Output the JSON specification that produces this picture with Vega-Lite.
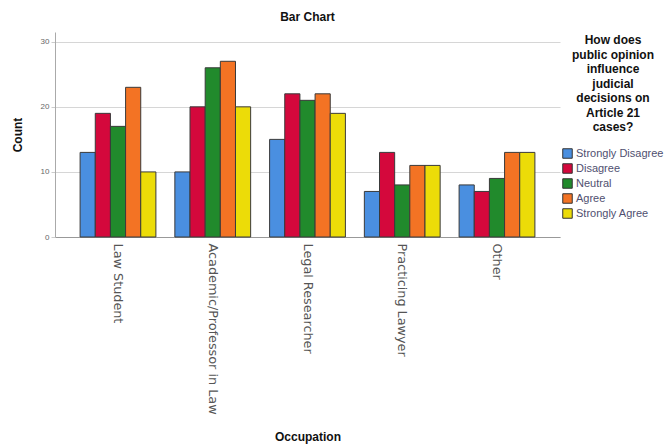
{
  "$schema": "https://vega.github.io/schema/vega-lite/v6.json",
  "width": 505,
  "height": 205,
  "autosize": {"type": "none"},
  "padding": {"left": 55, "top": 32, "right": 109, "bottom": 207},
  "background": "white",
  "title": {"text": "Bar Chart", "fontSize": 12, "font": "Liberation Sans", "fontWeight": "bold", "color": "#111", "anchor": "middle", "offset": 8},
  "config": {
    "view": {"stroke": null},
    "font": "Liberation Sans"
  },
  "data": {
    "values": [
      {"occupation": "Law Student", "opinion": "Strongly Disagree", "count": 13},
      {"occupation": "Law Student", "opinion": "Disagree", "count": 19},
      {"occupation": "Law Student", "opinion": "Neutral", "count": 17},
      {"occupation": "Law Student", "opinion": "Agree", "count": 23},
      {"occupation": "Law Student", "opinion": "Strongly Agree", "count": 10},
      {"occupation": "Academic/Professor in Law", "opinion": "Strongly Disagree", "count": 10},
      {"occupation": "Academic/Professor in Law", "opinion": "Disagree", "count": 20},
      {"occupation": "Academic/Professor in Law", "opinion": "Neutral", "count": 26},
      {"occupation": "Academic/Professor in Law", "opinion": "Agree", "count": 27},
      {"occupation": "Academic/Professor in Law", "opinion": "Strongly Agree", "count": 20},
      {"occupation": "Legal Researcher", "opinion": "Strongly Disagree", "count": 15},
      {"occupation": "Legal Researcher", "opinion": "Disagree", "count": 22},
      {"occupation": "Legal Researcher", "opinion": "Neutral", "count": 21},
      {"occupation": "Legal Researcher", "opinion": "Agree", "count": 22},
      {"occupation": "Legal Researcher", "opinion": "Strongly Agree", "count": 19},
      {"occupation": "Practicing Lawyer", "opinion": "Strongly Disagree", "count": 7},
      {"occupation": "Practicing Lawyer", "opinion": "Disagree", "count": 13},
      {"occupation": "Practicing Lawyer", "opinion": "Neutral", "count": 8},
      {"occupation": "Practicing Lawyer", "opinion": "Agree", "count": 11},
      {"occupation": "Practicing Lawyer", "opinion": "Strongly Agree", "count": 11},
      {"occupation": "Other", "opinion": "Strongly Disagree", "count": 8},
      {"occupation": "Other", "opinion": "Disagree", "count": 7},
      {"occupation": "Other", "opinion": "Neutral", "count": 9},
      {"occupation": "Other", "opinion": "Agree", "count": 13},
      {"occupation": "Other", "opinion": "Strongly Agree", "count": 13}
    ]
  },
  "mark": {"type": "bar", "stroke": "#3a3a3a", "strokeWidth": 1},
  "encoding": {
    "x": {
      "field": "occupation",
      "type": "nominal",
      "sort": ["Law Student", "Academic/Professor in Law", "Legal Researcher", "Practicing Lawyer", "Other"],
      "scale": {"paddingInner": 0.2, "paddingOuter": 0.265},
      "axis": {
        "title": "Occupation",
        "titleFontSize": 12,
        "titleFontWeight": "bold",
        "titleColor": "#111",
        "titleY": 199,
        "titleBaseline": "middle",
        "labelAngle": 90,
        "labelAlign": "left",
        "labelBaseline": "middle",
        "labelFont": "DejaVu Sans",
        "labelFontSize": 12.8,
        "labelColor": "#555",
        "labelPadding": 6,
        "ticks": false,
        "domainColor": "#999",
        "labelLimit": 300
      }
    },
    "xOffset": {
      "field": "opinion",
      "type": "nominal",
      "sort": ["Strongly Disagree", "Disagree", "Neutral", "Agree", "Strongly Agree"],
      "scale": {"paddingInner": 0, "paddingOuter": 0}
    },
    "y": {
      "field": "count",
      "type": "quantitative",
      "scale": {"domain": [0, 31.5], "nice": false},
      "axis": {
        "title": "Count",
        "titleFontSize": 12,
        "titleFontWeight": "bold",
        "titleColor": "#111",
        "titlePadding": 16,
        "values": [0, 10, 20, 30],
        "labelFontSize": 8,
        "labelColor": "#666",
        "tickColor": "#ccc",
        "tickSize": 4,
        "gridColor": "#d6d6d6",
        "domainColor": "#aaa"
      }
    },
    "color": {
      "field": "opinion",
      "type": "nominal",
      "sort": ["Strongly Disagree", "Disagree", "Neutral", "Agree", "Strongly Agree"],
      "scale": {
        "domain": ["Strongly Disagree", "Disagree", "Neutral", "Agree", "Strongly Agree"],
        "range": ["#4a8fe0", "#d4083c", "#218a2c", "#f37324", "#ecdc08"]
      },
      "legend": {
        "title": ["How does", "public opinion", "influence", "judicial", "decisions on", "Article 21", "cases?"],
        "titleFontSize": 12,
        "titleFontWeight": "bold",
        "titleColor": "#111",
        "titleAlign": "center",
        "titleAnchor": "middle",
        "titleLineHeight": 14.5,
        "titlePadding": 14,
        "orient": "none",
        "legendX": 507,
        "legendY": 3,
        "symbolType": "square",
        "symbolSize": 90,
        "symbolStrokeColor": "#333",
        "symbolStrokeWidth": 1,
        "symbolOpacity": 1,
        "labelFontSize": 11,
        "labelColor": "#505070",
        "labelOffset": 3,
        "rowPadding": 0
      }
    }
  }
}
